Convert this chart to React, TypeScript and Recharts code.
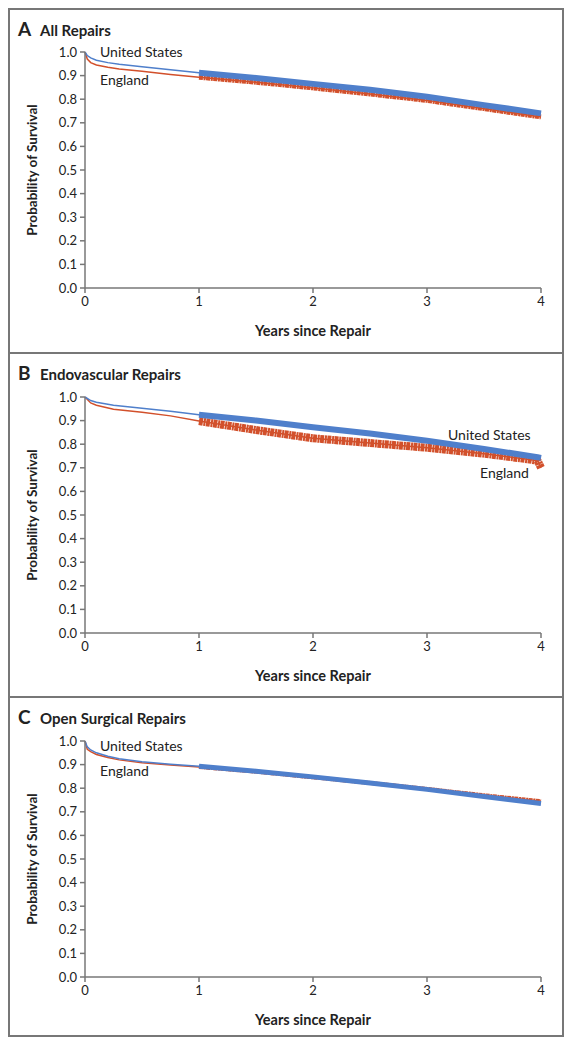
import { LineChart, Line, XAxis, YAxis } from 'recharts';

// Time points (years since repair) shared by all curves
const YEARS_A = [0, 0.02, 0.05, 0.1, 0.2, 0.3, 0.5, 0.75, 1, 1.5, 2, 2.5, 3, 3.5, 4];
const US_A = [1.0, 0.985, 0.975, 0.965, 0.955, 0.948, 0.937, 0.925, 0.912, 0.89, 0.865, 0.84, 0.81, 0.775, 0.74];
const ENG_A = [1.0, 0.97, 0.955, 0.945, 0.935, 0.928, 0.918, 0.905, 0.893, 0.872, 0.848, 0.822, 0.795, 0.76, 0.725];

const YEARS_B = [0, 0.05, 0.1, 0.25, 0.5, 0.75, 1, 1.5, 2, 2.5, 3, 3.5, 3.9, 3.97, 4];
const US_B = [1.0, 0.985, 0.978, 0.965, 0.952, 0.94, 0.925, 0.9, 0.872, 0.845, 0.815, 0.78, 0.75, 0.745, 0.742];
const ENG_B = [1.0, 0.975, 0.965, 0.948, 0.935, 0.92, 0.898, 0.86, 0.825, 0.805, 0.785, 0.76, 0.735, 0.73, 0.7];

const YEARS_C = [0, 0.02, 0.05, 0.1, 0.2, 0.3, 0.5, 0.75, 1, 1.5, 2, 2.5, 3, 3.5, 4];
const US_C = [1.0, 0.975, 0.962, 0.95, 0.935, 0.925, 0.912, 0.902, 0.893, 0.872, 0.848, 0.822, 0.795, 0.765, 0.735];
const ENG_C = [1.0, 0.965, 0.955, 0.943, 0.93, 0.92, 0.908, 0.898, 0.89, 0.87, 0.846, 0.822, 0.797, 0.77, 0.745];

const X_TICKS = [0, 1, 2, 3, 4];
const Y_TICKS = [0, 0.1, 0.2, 0.3, 0.4, 0.5, 0.6, 0.7, 0.8, 0.9, 1.0];

const BLUE = '#4f7fcb';
const RED = '#d2502b';
const AXIS = '#777';
const FONT = 'Lato, "Noto Sans", sans-serif';

function buildRows(years: number[], us: number[], eng: number[]) {
  // censored stretch (after year 1) is drawn as a thick band
  return years.map((year, i) => ({
    year,
    us: us[i],
    eng: eng[i],
    usBand: year >= 1 ? us[i] : null,
    engBand: year >= 1 ? eng[i] : null,
  }));
}

type Note = { text: string; x: number; y: number };

function Panel({
  letter,
  title,
  rows,
  height,
  plotTop,
  notes,
  usBand,
  engBand,
  last,
}: {
  letter: string;
  title: string;
  rows: ReturnType<typeof buildRows>;
  height: number;
  plotTop: number;
  notes: Note[];
  usBand: number;
  engBand: number;
  last?: boolean;
}) {
  const plotH = 236;
  const axisH = 50;
  return (
    <div style={{ position: 'relative', height, borderBottom: last ? 'none' : `2px solid ${AXIS}` }}>
      <div style={{ position: 'absolute', left: 8, top: 7, display: 'flex', alignItems: 'baseline', color: '#222' }}>
        <span style={{ fontWeight: 700, fontSize: 19, width: 22 }}>{letter}</span>
        <span style={{ fontWeight: 700, fontSize: 15 }}>{title}</span>
      </div>
      <LineChart
        width={552}
        height={height}
        data={rows}
        margin={{ top: plotTop, right: 21, left: 0, bottom: height - plotTop - plotH - axisH }}
      >
        <XAxis
          dataKey="year"
          type="number"
          domain={[0, 4]}
          ticks={X_TICKS}
          height={axisH}
          stroke={AXIS}
          strokeWidth={1.5}
          tickSize={5}
          tickMargin={4}
          tick={{ fill: '#222', fontSize: 13 }}
          label={{ value: 'Years since Repair', position: 'insideBottom', offset: 2, fill: '#222', fontSize: 14.5, fontWeight: 700 }}
        />
        <YAxis
          type="number"
          domain={[0, 1]}
          ticks={Y_TICKS}
          interval={0}
          width={75}
          stroke={AXIS}
          strokeWidth={1.5}
          tickSize={5}
          tickMargin={3}
          tick={{ fill: '#222', fontSize: 13 }}
          tickFormatter={(v: number) => v.toFixed(1)}
          label={{
            value: 'Probability of Survival',
            angle: -90,
            position: 'insideLeft',
            offset: 22,
            fill: '#222',
            fontSize: 13.5,
            fontWeight: 700,
            style: { textAnchor: 'middle' },
          }}
        />
        <Line dataKey="eng" stroke={RED} strokeWidth={1.5} dot={false} isAnimationActive={false} />
        <Line dataKey="us" stroke={BLUE} strokeWidth={1.5} dot={false} isAnimationActive={false} />
        <Line
          dataKey="engBand"
          stroke={RED}
          strokeWidth={engBand}
          strokeDasharray="4 0.7 2 0.5"
          dot={false}
          connectNulls={false}
          isAnimationActive={false}
        />
        <Line
          dataKey="usBand"
          stroke={BLUE}
          strokeWidth={usBand}
          dot={false}
          connectNulls={false}
          isAnimationActive={false}
        />
      </LineChart>
      {notes.map((n) => (
        <div
          key={n.text}
          style={{
            position: 'absolute',
            left: n.x,
            top: n.y,
            transform: 'translateY(-50%)',
            fontSize: 14,
            lineHeight: 1,
            color: '#222',
            whiteSpace: 'nowrap',
          }}
        >
          {n.text}
        </div>
      ))}
    </div>
  );
}

export default function App() {
  return (
    <div style={{ width: 552, border: `2px solid ${AXIS}`, fontFamily: FONT, background: '#fff' }}>
      <Panel
        letter="A"
        title="All Repairs"
        rows={buildRows(YEARS_A, US_A, ENG_A)}
        height={342}
        plotTop={42}
        usBand={6}
        engBand={5}
        notes={[
          { text: 'United States', x: 90, y: 42 },
          { text: 'England', x: 90, y: 70 },
        ]}
      />
      <Panel
        letter="B"
        title="Endovascular Repairs"
        rows={buildRows(YEARS_B, US_B, ENG_B)}
        height={342}
        plotTop={43}
        usBand={6}
        engBand={8}
        notes={[
          { text: 'United States', x: 438, y: 81 },
          { text: 'England', x: 470, y: 119 },
        ]}
      />
      <Panel
        letter="C"
        title="Open Surgical Repairs"
        rows={buildRows(YEARS_C, US_C, ENG_C)}
        height={337}
        plotTop={43}
        usBand={5}
        engBand={4}
        last
        notes={[
          { text: 'United States', x: 90, y: 48 },
          { text: 'England', x: 90, y: 73 },
        ]}
      />
    </div>
  );
}
